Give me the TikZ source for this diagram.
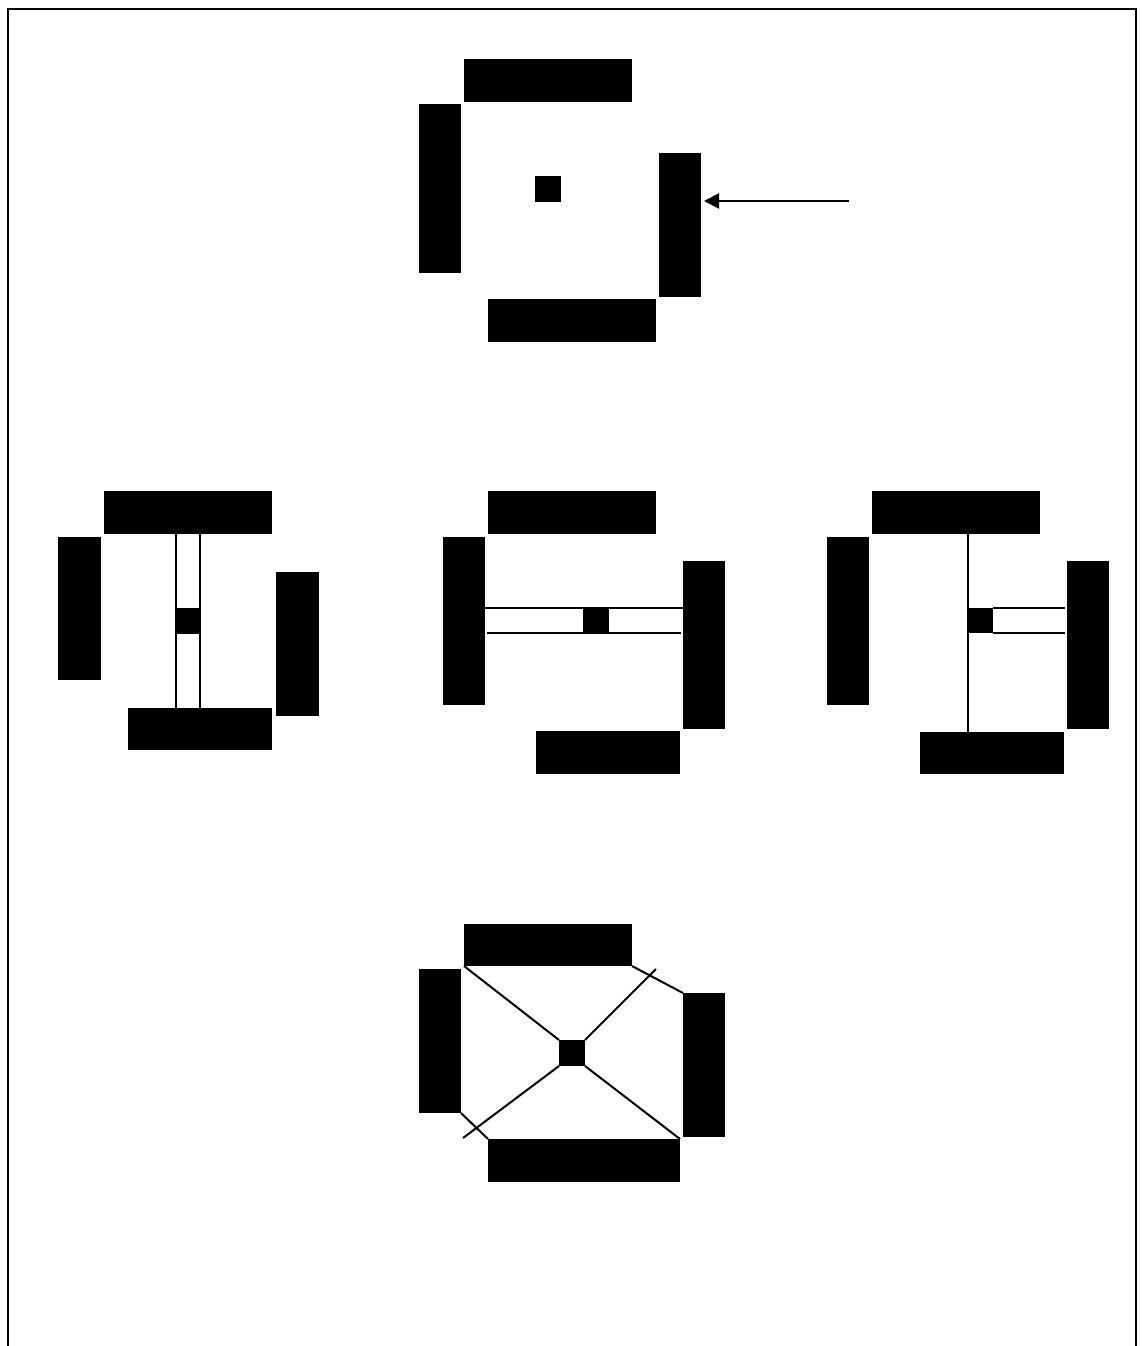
\documentclass[tikz,border=0pt]{standalone}
\usetikzlibrary{fit,arrows.meta}
\tikzset{
  blk/.style={fill=black,draw=none,inner sep=0pt,outer sep=0pt},
  wire/.style={line width=2pt,line cap=butt},
}
\newcommand{\blkbox}[5]{\node[blk,fit={(#2,#3) (#4,#5)}] (#1) {};}
\begin{document}
\begin{tikzpicture}[x=1pt,y=-1pt]
\useasboundingbox (0,0) rectangle (1142,1346);
% frame
\draw[line width=2pt] (8,1346) -- (8,9) -- (1136,9) -- (1136,1346);

% ---- top figure
\blkbox{at}{464}{59}{632}{102}
\blkbox{al}{419}{104}{461}{273}
\blkbox{ac}{535}{176}{561}{202}
\blkbox{ar}{659}{153}{701}{297}
\blkbox{ab}{488}{299}{656}{342}
\coordinate (arrs) at (849,201);
\draw[wire,-{Triangle[length=15pt,width=15pt]},shorten >=3pt] (arrs) -- (ar.east |- arrs);

% ---- middle left
\blkbox{bt}{104}{491}{272}{534}
\blkbox{bl}{58}{537}{101}{680}
\blkbox{br}{276}{572}{319}{716}
\blkbox{bb}{128}{708}{272}{750}
\blkbox{bc}{176}{608}{200}{634}
\draw[wire] (bc.west |- bt.south) -- (bc.west |- bb.north);
\draw[wire] (bc.east |- bt.south) -- (bc.east |- bb.north);

% ---- middle centre
\blkbox{ct}{488}{491}{656}{534}
\blkbox{cl}{443}{537}{485}{705}
\blkbox{cr}{683}{561}{725}{729}
\blkbox{cb}{536}{731}{680}{774}
\blkbox{cc}{583}{608}{609}{633}
\draw[wire] (cl.east |- cc.north) -- (cr.west |- cc.north);
\coordinate (cll) at (487,633);
\coordinate (clr) at (681,633);
\draw[wire] (cll) -- (clr);

% ---- middle right
\blkbox{dt}{872}{491}{1040}{534}
\blkbox{dl}{827}{537}{869}{705}
\blkbox{dr}{1067}{561}{1109}{729}
\blkbox{db}{920}{732}{1064}{774}
\blkbox{dc}{968}{608}{993}{633}
\draw[wire] (dc.west |- dt.south) -- (dc.west |- db.north);
\coordinate (dre) at (1065,608);
\draw[wire] (dc.north east) -- (dre);
\draw[wire] (dc.south east) -- (dre |- dc.south);

% ---- bottom figure
\blkbox{et}{464}{924}{632}{966}
\blkbox{el}{419}{969}{461}{1113}
\blkbox{er}{683}{993}{725}{1137}
\blkbox{eb}{488}{1139}{680}{1182}
\blkbox{ec}{559}{1040}{585}{1066}
\coordinate (etr) at (656,969);
\coordinate (ebl) at (463,1138);
\draw[wire] (ec.north west) -- (et.south west);
\draw[wire] (ec.north east) -- (etr);
\draw[wire] (ec.south west) -- (ebl);
\draw[wire] (ec.south east) -- (eb.north east);
\draw[wire] (et.south east) -- (er.north west);
\draw[wire] (el.south east) -- (eb.north west);
\end{tikzpicture}
\end{document}
